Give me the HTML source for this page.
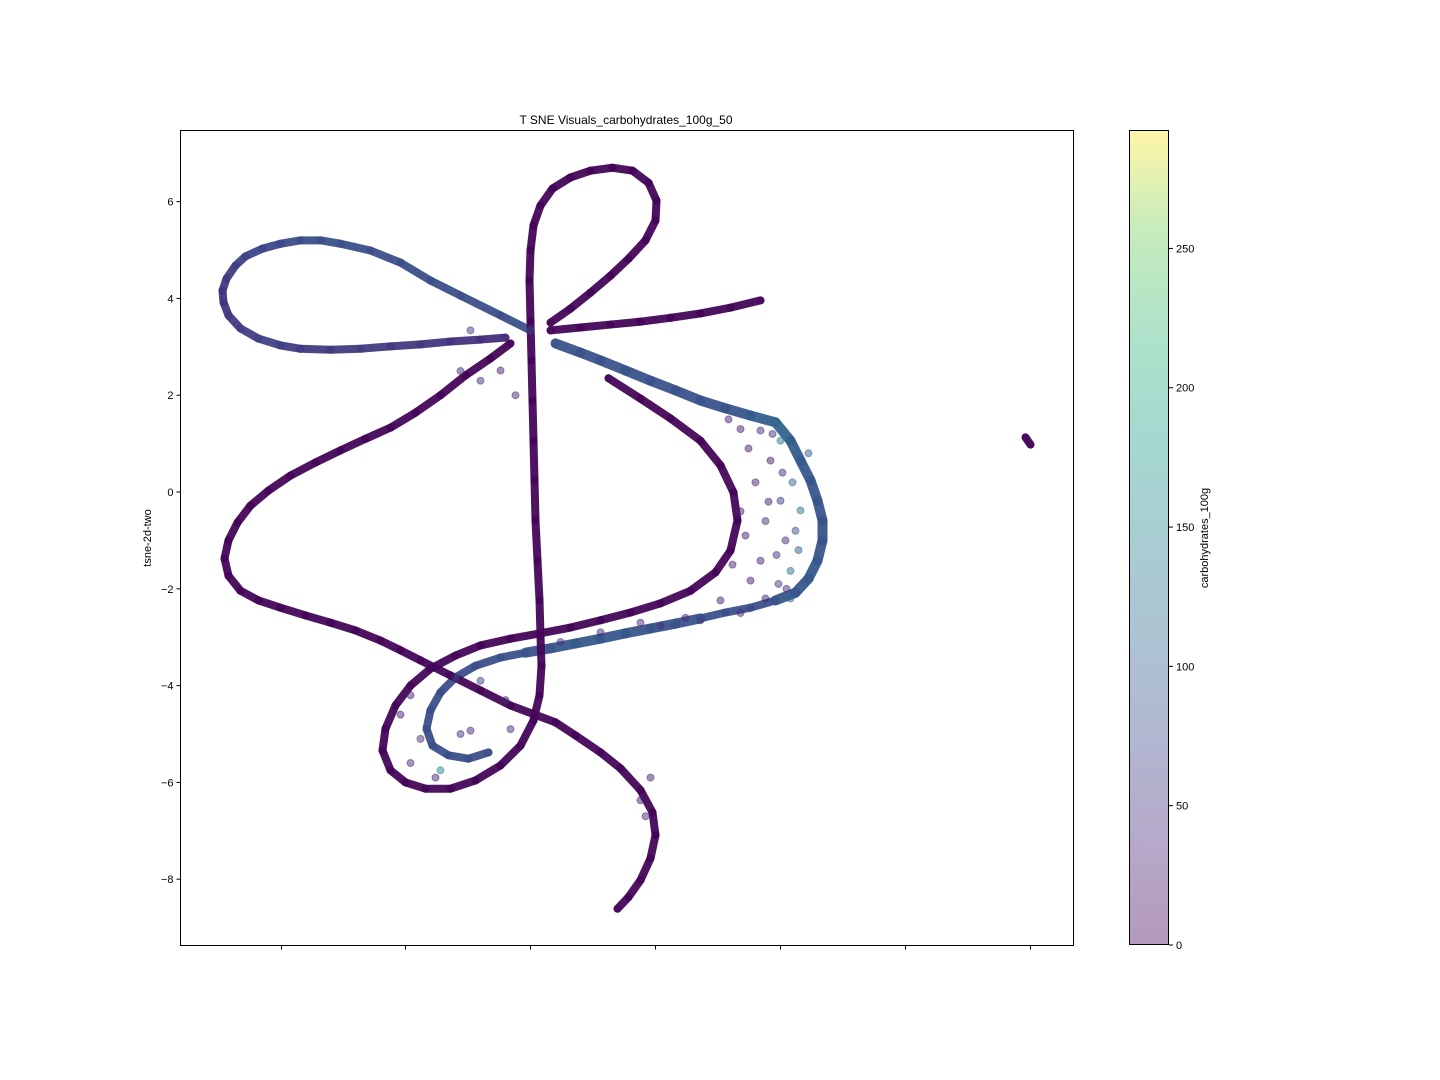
<!DOCTYPE html>
<html><head><meta charset="utf-8">
<style>
html,body{margin:0;padding:0;background:#fff;width:1440px;height:1080px;overflow:hidden}
svg text{font-family:"Liberation Sans",sans-serif;fill:#000}
</style></head>
<body>
<svg id="chart" width="1440" height="1080" xmlns="http://www.w3.org/2000/svg">
<defs>
<linearGradient id="vir" x1="0" y1="1" x2="0" y2="0">
<stop offset="0" stop-color="#440154"/><stop offset="0.125" stop-color="#482878"/>
<stop offset="0.25" stop-color="#3e4989"/><stop offset="0.375" stop-color="#31688e"/>
<stop offset="0.5" stop-color="#26828e"/><stop offset="0.625" stop-color="#1f9e89"/>
<stop offset="0.75" stop-color="#35b779"/><stop offset="0.875" stop-color="#6ece58"/>
<stop offset="1" stop-color="#fde725"/>
</linearGradient>
</defs>
<text x="626" y="124" font-size="12" text-anchor="middle">T SNE Visuals_carbohydrates_100g_50</text>
<rect x="180.5" y="130.5" width="893" height="815" fill="none" stroke="#000" stroke-width="1"/>
<g id="yaxis"></g>
<g id="xaxis"></g>
<g id="marks"></g>
<text transform="translate(151,538) rotate(-90)" font-size="11" text-anchor="middle">tsne-2d-two</text>
<g>
<rect x="1129.5" y="130.5" width="39" height="814" fill="url(#vir)" opacity="0.4"/>
<rect x="1129.5" y="130.5" width="39" height="814" fill="none" stroke="#000" stroke-width="1"/>
</g>
<g id="cbaxis"></g>
<text transform="translate(1208,538) rotate(-90)" font-size="11" text-anchor="middle">carbohydrates_100g</text>
</svg>
<script>
const yTicks = [6,4,2,0,-2,-4,-6,-8];
const yTickLabels = ["6","4","2","0","\u22122","\u22124","\u22126","\u22128"];
const xTicks = [101,225,350,475,600,725,850];
const cbTicks = [0,50,100,150,200,250];
const cbTickLabels = ["0","50","100","150","200","250"];

const seriesUpperPetal = [[350,3.34,80],[320,3.65,80],[280,4.06,80],[250,4.37,80],[220,4.74,80],[190,4.99,80],[160,5.13,80],[140,5.20,80],[120,5.20,80],[100,5.13,75],[82,5.03,70],[65,4.87,70],[55,4.68,65],[46,4.41,60],[42,4.16,50],[43,3.92,50],[48,3.65,55],[60,3.38,60],[78,3.17,65],[100,3.03,65],[120,2.96,55]];
const seriesLowerPetal = [[120,2.96,55],[150,2.94,60],[180,2.96,60],[210,3.01,55],[240,3.05,55],[270,3.11,50],[300,3.15,45],[325,3.19,40]];
const seriesBlueBand = [[375,3.07,85],[400,2.88,85],[420,2.72,85],[445,2.51,85],[470,2.30,85],[495,2.10,85],[520,1.89,85],[545,1.73,85],[570,1.58,90],[595,1.44,110],[610,1.06,100],[620,0.65,95],[630,0.24,90],[637,-0.18,90],[642,-0.59,85],[642,-1.00,85],[637,-1.42,90],[628,-1.79,95],[615,-2.08,90],[595,-2.24,85],[570,-2.39,80],[545,-2.49,80],[520,-2.61,85],[495,-2.72,85],[470,-2.82,85],[445,-2.92,90],[420,-3.03,90],[395,-3.13,95],[370,-3.23,90],[345,-3.32,85],[320,-3.42,80],[295,-3.59,80],[275,-3.83,80],[260,-4.14,80],[250,-4.51,80],[246,-4.89,80],[252,-5.24,80],[268,-5.44,80],[288,-5.51,80],[308,-5.38,80]];
const seriesSCurve = [[330,3.07,5],[310,2.76,5],[285,2.41,5],[260,2.00,5],[235,1.64,5],[210,1.33,5],[185,1.10,5],[160,0.86,5],[135,0.61,5],[110,0.34,5],[88,0.03,5],[70,-0.28,5],[57,-0.63,5],[48,-1.00,5],[44,-1.37,5],[48,-1.73,5],[60,-2.04,5],[78,-2.24,5],[100,-2.39,5],[125,-2.55,5],[150,-2.70,5],[175,-2.86,5],[200,-3.07,5],[220,-3.27,5],[240,-3.48,5],[270,-3.79,5],[300,-4.10,5],[330,-4.41,5],[375,-4.76,5],[395,-5.03,5],[420,-5.38,5],[440,-5.71,5],[460,-6.16,5],[472,-6.62,5],[475,-7.09,5],[470,-7.57,5],[460,-8.02,5],[448,-8.37,5],[437,-8.61,5]];
const seriesStemLoop = [[428,2.35,5],[460,1.93,5],[490,1.52,5],[520,1.06,5],[540,0.55,5],[553,-0.01,5],[557,-0.59,5],[550,-1.21,5],[535,-1.66,5],[510,-2.04,5],[480,-2.30,5],[450,-2.49,5],[420,-2.65,5],[390,-2.80,5],[360,-2.92,5],[330,-3.03,5],[300,-3.17,5],[275,-3.38,5],[250,-3.65,5],[230,-4.00,5],[215,-4.41,5],[205,-4.89,5],[202,-5.34,5],[210,-5.75,5],[225,-6.00,5],[245,-6.13,5],[270,-6.13,5],[295,-5.96,5],[320,-5.65,5],[340,-5.24,5],[353,-4.72,5],[359,-4.20,5],[361,-3.59,5],[360,-2.97,5],[359,-2.24,5],[357,-1.42,5],[355,-0.59,5],[354,0.24,5],[353,1.06,5],[352,1.89,5],[351,2.72,5],[350,3.54,5],[349,4.37,5],[350,4.99,5],[353,5.51,5],[360,5.92,5],[372,6.27,5],[390,6.50,5],[410,6.64,5],[432,6.70,5],[452,6.64,5],[468,6.39,5],[476,6.02,5],[475,5.61,5],[465,5.20,5],[448,4.82,5],[430,4.47,5],[410,4.12,5],[390,3.79,5],[370,3.50,5]];
const seriesRightLine = [[370,3.34,5],[400,3.40,5],[430,3.46,5],[460,3.52,5],[490,3.60,5],[520,3.69,5],[550,3.81,5],[580,3.96,5]];
const seriesIsland = [[845,1.13,5],[850,0.98,5]];
const seriesScatter = [[580,1.27,40],[590,0.65,30],[600,-0.18,60],[605,-1.00,40],[580,-1.42,30],[610,-1.63,120],[620,-0.38,120],[600,1.06,130],[570,-1.83,30],[540,-2.24,30],[520,-2.65,60],[480,-2.76,40],[260,-5.75,150],[290,-4.93,40],[320,2.51,30],[335,2.0,40],[290,3.34,60],[230,-4.2,30],[460,-6.37,30],[592,1.2,40],[575,0.2,35],[585,-0.6,45],[612,0.2,110],[598,-1.9,60],[560,1.3,30],[628,0.8,100],[240,-5.1,40],[280,-5.0,50],[330,-4.9,40],[300,-3.9,60],[565,-0.9,30],[568,0.9,30],[596,-1.3,50],[606,-2.0,40],[585,-2.2,35],[560,-2.5,40],[618,-1.2,100],[615,-0.8,80],[602,0.4,45],[588,-0.2,30],[560,-0.4,30],[552,-1.5,35],[548,1.5,35],[610,-2.2,110],[505,-2.6,40],[460,-2.7,40],[420,-2.9,40],[380,-3.1,50],[230,-5.6,40],[220,-4.6,30],[255,-5.9,40],[325,-4.3,30],[280,2.5,40],[300,2.3,45],[470,-5.9,30],[465,-6.7,40]];

const allSeries = [seriesUpperPetal, seriesLowerPetal, seriesBlueBand, seriesSCurve, seriesStemLoop, seriesRightLine, seriesIsland];

const X0=180.5, X1=1073.5, Y0=130.5, Y1=945.5;
const xDomain=[0,893], yDomain=[7.47,-9.37];
function xScale(v){return X0+(v-xDomain[0])/(xDomain[1]-xDomain[0])*(X1-X0);}
function yScale(v){return Y0+(yDomain[0]-v)/(yDomain[0]-yDomain[1])*(Y1-Y0);}
const cbMax=292.5;
function cbScale(v){return 945-v/cbMax*815;}
const vstops=[[68,1,84],[72,40,120],[62,73,137],[49,104,142],[38,130,142],[31,158,137],[53,183,121],[110,206,88],[253,231,37]];
function viridis(t){t=Math.max(0,Math.min(1,t));const s=t*(vstops.length-1);const i=Math.min(vstops.length-2,Math.floor(s));const f=s-i;
const a=vstops[i],b=vstops[i+1];return 'rgb('+[0,1,2].map(k=>Math.round(a[k]+(b[k]-a[k])*f)).join(',')+')';}
const NS='http://www.w3.org/2000/svg';
function mk(tag,attrs,parent){const e=document.createElementNS(NS,tag);for(const k in attrs)e.setAttribute(k,attrs[k]);parent.appendChild(e);return e;}

const ya=document.getElementById('yaxis');
yTicks.forEach((t,i)=>{const y=yScale(t);
 const l=mk('line',{x1:X0-4,x2:X0,y1:y,y2:y,stroke:'#000'},ya);
 
 
 const tx=mk('text',{x:X0-7,y:y+4,'font-size':11,'text-anchor':'end'},ya);tx.textContent=yTickLabels[i];
 
 
});
const xa=document.getElementById('xaxis');
xTicks.forEach(t=>{const x=xScale(t);
 const l=mk('line',{x1:x,x2:x,y1:Y1,y2:Y1+4,stroke:'#000'},xa);
 
 
});
const cba=document.getElementById('cbaxis');
cbTicks.forEach((t,i)=>{const y=cbScale(t);
 const l=mk('line',{x1:1169,x2:1173,y1:y,y2:y,stroke:'#000'},cba);
 
 
 const tx=mk('text',{x:1176,y:y+4,'font-size':11},cba);tx.textContent=cbTickLabels[i];
 
 
});

const g=document.getElementById('marks');
allSeries.forEach(s=>{for(let i=0;i<s.length-1;i++){const a=s[i],b=s[i+1];
 const dx=xScale(b[0])-xScale(a[0]),dy=yScale(b[1])-yScale(a[1]);
 if(Math.hypot(dx,dy)>60)continue;
 const avg=(a[2]+b[2])/2;
 const w=avg>=85?10:8;
 const seg=mk('line',{x1:xScale(a[0]),y1:yScale(a[1]),x2:xScale(b[0]),y2:yScale(b[1]),stroke:viridis(avg/cbMax),'stroke-width':w,'stroke-linecap':'round','stroke-opacity':0.95},g);
 
 
}});
allSeries.concat([seriesScatter]).forEach(s=>s.forEach(p=>{
 const c=mk('circle',{cx:xScale(p[0]),cy:yScale(p[1]),r:3.5,fill:viridis(p[2]/cbMax),'fill-opacity':0.5,stroke:viridis(p[2]/cbMax),'stroke-opacity':0.5},g);
 
 
}));
</script>
</body></html>
